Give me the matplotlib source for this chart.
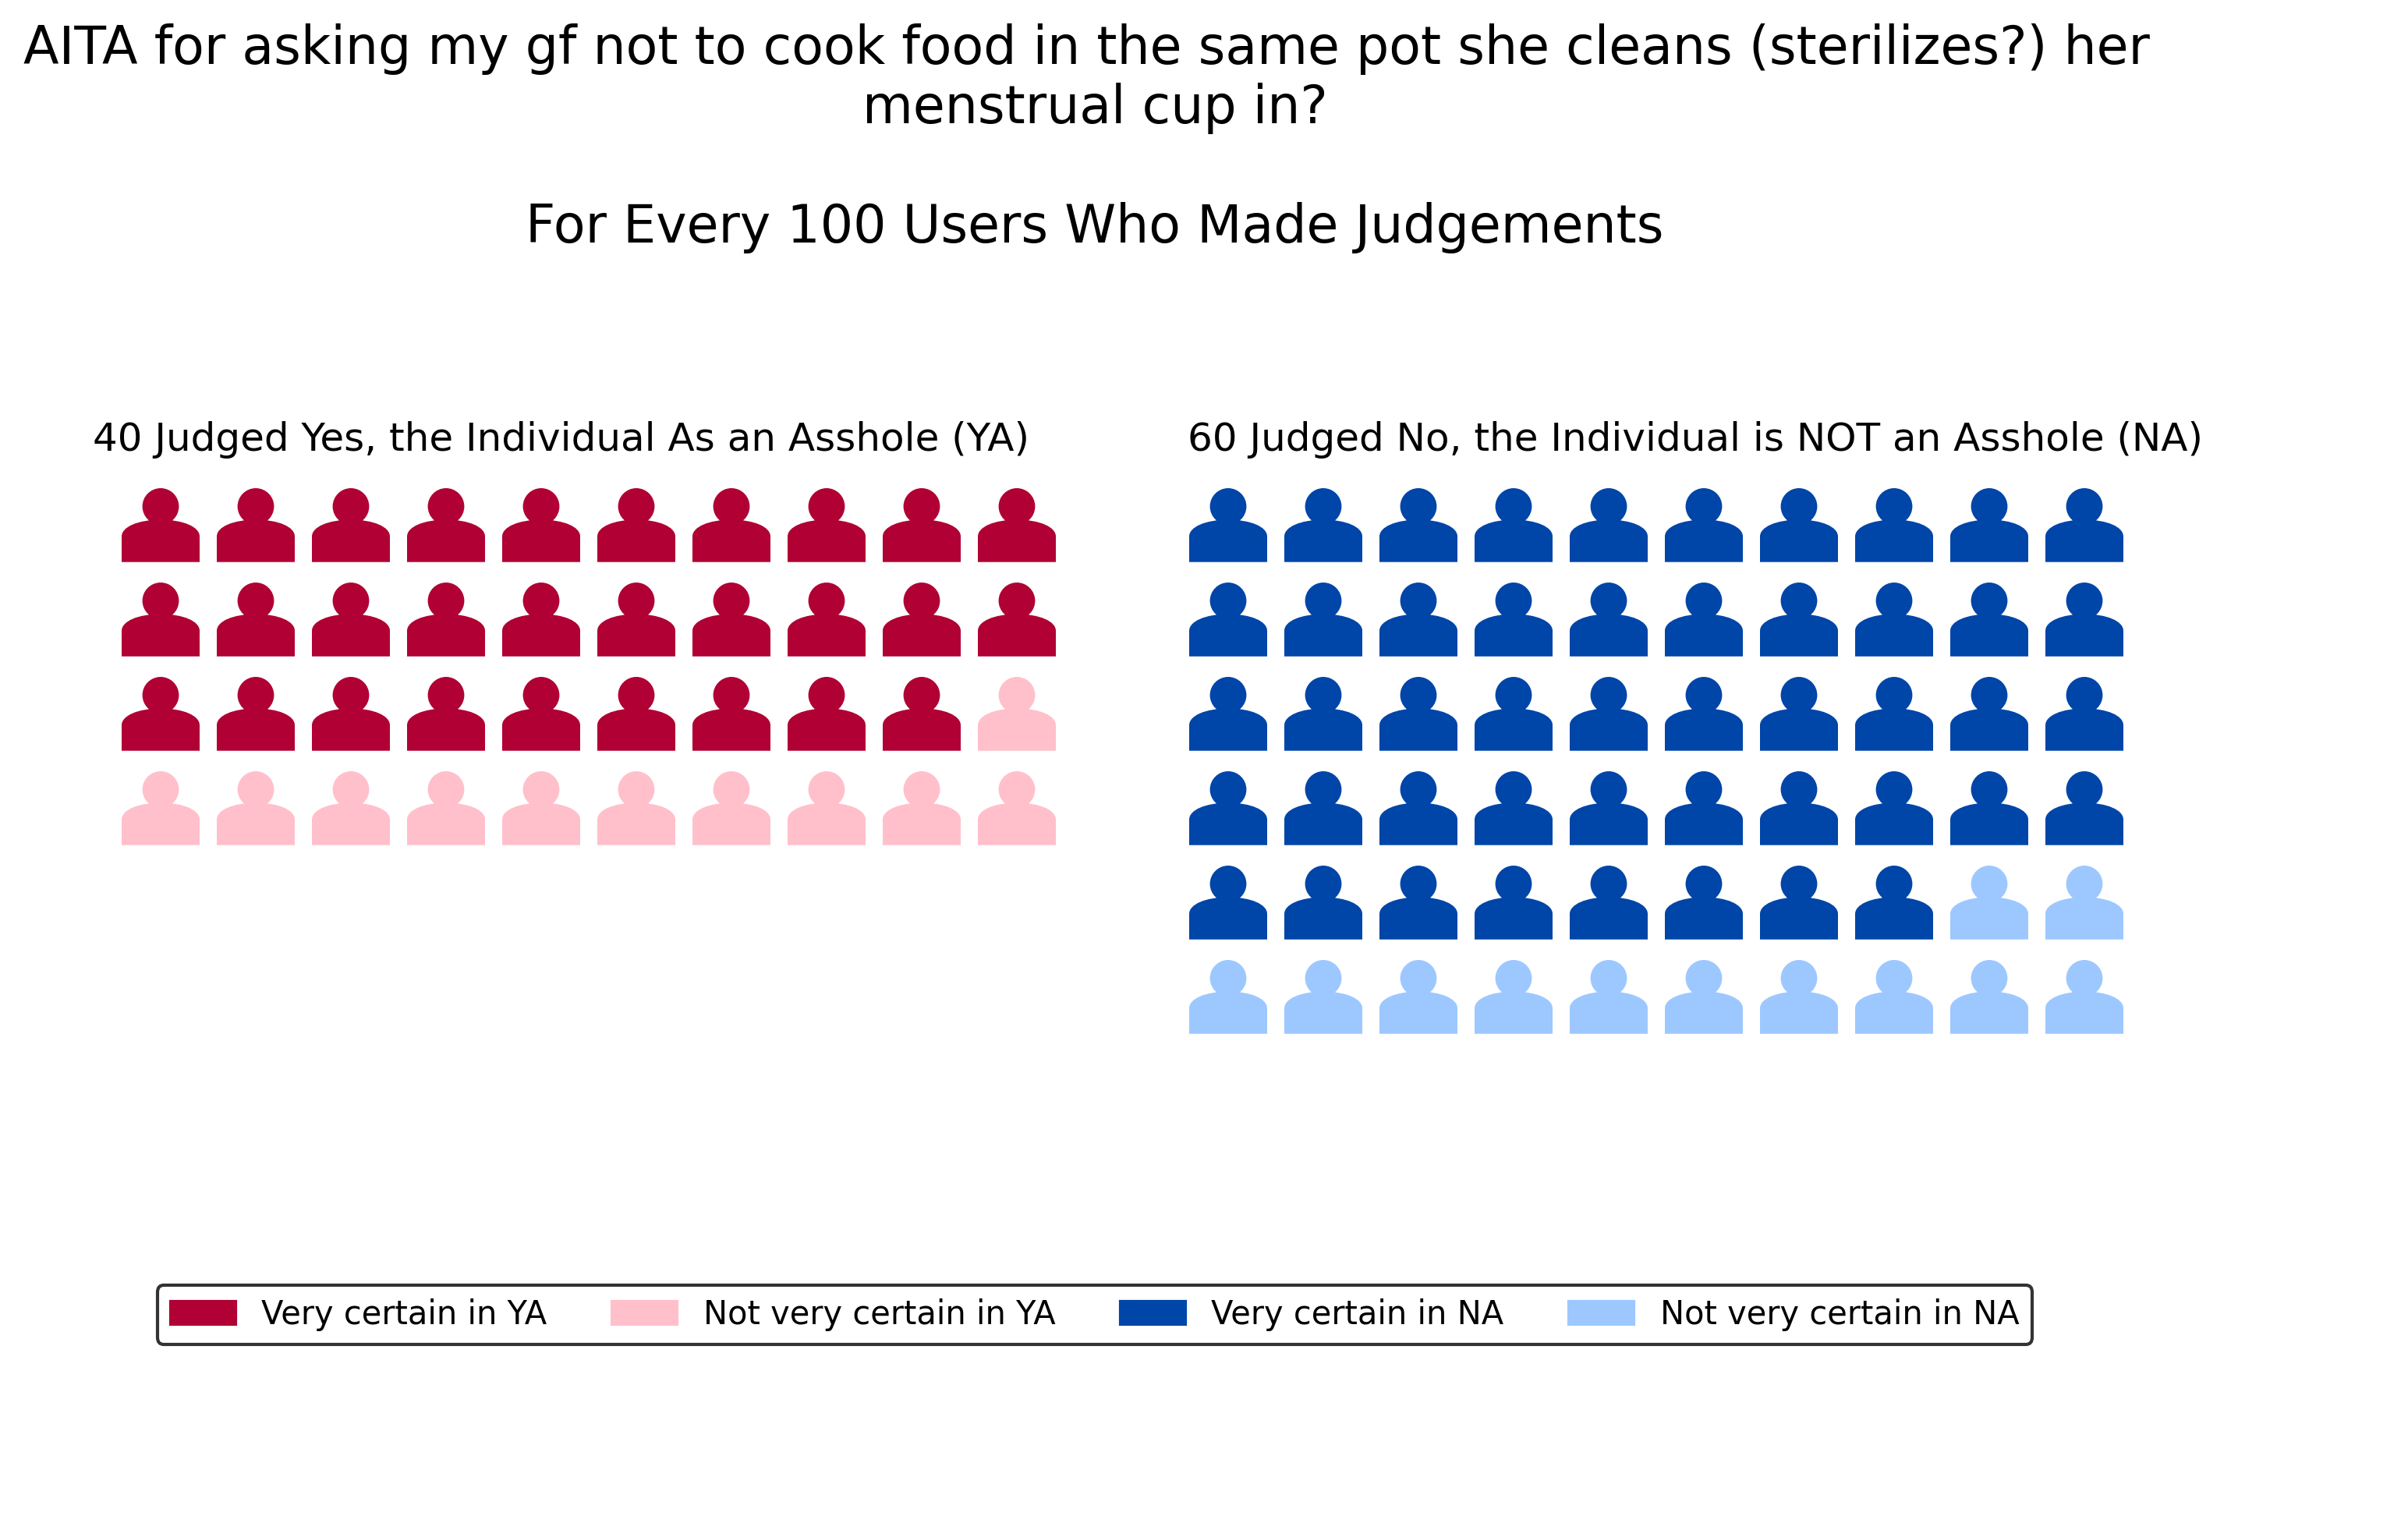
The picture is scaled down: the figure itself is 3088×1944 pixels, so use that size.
import matplotlib
matplotlib.use("Agg")
import matplotlib.pyplot as plt
from matplotlib.patches import Patch, PathPatch
from matplotlib.path import Path
import numpy as np

title = ("AITA for asking my gf not to cook food in the same pot she cleans (sterilizes?) her \n"
         "menstrual cup in?\n\nFor Every 100 Users Who Made Judgements")
ya_title = "40 Judged Yes, the Individual As an Asshole (YA)"
na_title = "60 Judged No, the Individual is NOT an Asshole (NA)"
legend_labels = ["Very certain in YA", "Not very certain in YA", "Very certain in NA", "Not very certain in NA"]
colors = ["#B00034", "#FFC0CB", "#0045A8", "#9DC8FF"]

ya_counts = [29, 11]
na_counts = [48, 12]
per_row = 10

W, H = 3088, 1944
PITCH_X, PITCH_Y = 122.0, 121.0
ICON_W, ICON_H = 100.0, 94.7


def person():
    # icon outline, in pixels from the top left of the icon
    k = 0.5523
    r = 23.4
    cx, cy = 50.0, 23.4
    head = [(cx, cy - r), (cx + k * r, cy - r), (cx + r, cy - k * r), (cx + r, cy),
            (cx + r, cy + k * r), (cx + k * r, cy + r), (cx, cy + r),
            (cx - k * r, cy + r), (cx - r, cy + k * r), (cx - r, cy),
            (cx - r, cy - k * r), (cx - k * r, cy - r), (cx, cy - r)]
    head_codes = [Path.MOVETO] + [Path.CURVE4] * 12
    body = [(0, ICON_H), (0, 62), (0, 49.5), (21, 40.5), (50, 40.5), (79, 40.5), (100, 49.5), (100, 62),
            (100, ICON_H), (0, ICON_H)]
    body_codes = [Path.MOVETO, Path.LINETO, Path.CURVE4, Path.CURVE4, Path.CURVE4,
                  Path.CURVE4, Path.CURVE4, Path.CURVE4, Path.LINETO, Path.CLOSEPOLY]
    verts = np.array(head + body, dtype=float)
    verts[:, 0] /= PITCH_X
    verts[:, 1] /= PITCH_Y
    return verts, head_codes + body_codes


def waffle(ax, counts, cols):
    verts, codes = person()
    i = 0
    for count, color in zip(counts, cols):
        for _ in range(count):
            row, col = divmod(i, per_row)
            p = PathPatch(Path(verts + [col, row], codes), facecolor=color, edgecolor="none")
            ax.add_patch(p)
            i += 1
    rows = int(np.ceil(sum(counts) / per_row))
    ax.set_xlim(0, per_row - 1 + ICON_W / PITCH_X)
    ax.set_ylim(rows - 1 + ICON_H / PITCH_Y, 0)
    ax.axis("off")


def px_axes(fig, left, top, nrows):
    width = (per_row - 1) * PITCH_X + ICON_W
    height = (nrows - 1) * PITCH_Y + ICON_H
    return fig.add_axes([left / W, 1 - (top + height) / H, width / W, height / H])


fig = plt.figure(figsize=(W / 300, H / 300), dpi=300)

ax1 = px_axes(fig, 156, 626, 4)
waffle(ax1, ya_counts, colors[:2])
ax2 = px_axes(fig, 1525, 626, 6)
waffle(ax2, na_counts, colors[2:])

fig.text(1404 / W, 1 - 30 / H, title, ha="center", va="top", fontsize=16)
fig.text(119 / W, 1 - 578 / H, ya_title, ha="left", va="baseline", fontsize=12)
fig.text(1523 / W, 1 - 578 / H, na_title, ha="left", va="baseline", fontsize=12)

handles = [Patch(color=c) for c in colors]
leg = fig.legend(handles, legend_labels, ncol=4, loc="center", bbox_to_anchor=(1404 / W, 1 - 1686 / H),
                 fontsize=10, fancybox=True, framealpha=1, edgecolor="#333333")

fig.savefig("out.png", dpi=300)
